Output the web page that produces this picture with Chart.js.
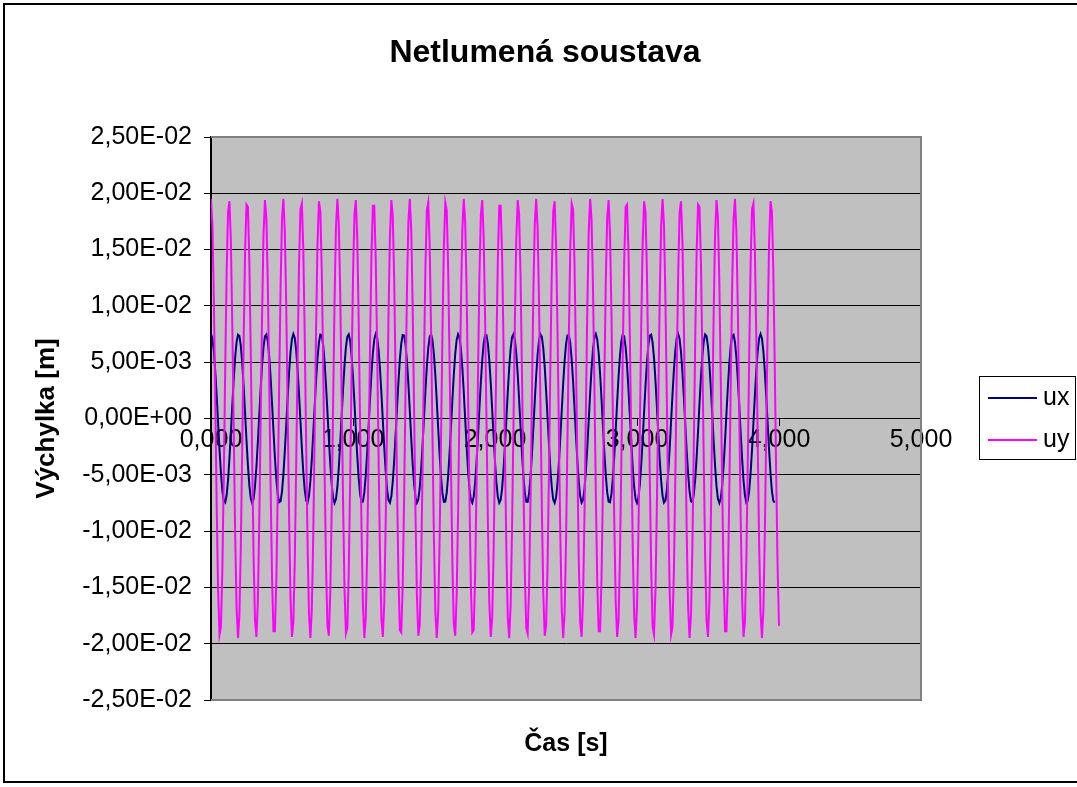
<!DOCTYPE html>
<html>
<head>
<meta charset="utf-8">
<title>Netlumená soustava</title>
<script src="https://cdn.jsdelivr.net/npm/chart.js@4.4.1/dist/chart.umd.min.js"></script>
<style>
  html, body { margin: 0; padding: 0; background: #fff; }
  #wrap { position: relative; width: 1077px; height: 787px; }
</style>
</head>
<body>
<div id="wrap"><canvas id="chart" width="1077" height="787"></canvas></div>
<script>
// sampling of both series (s)
const sampleStep = 0.01;

// axis ticks
const xTicks = [0, 1, 2, 3, 4, 5];
const yTicks = [-0.025, -0.02, -0.015, -0.01, -0.005, 0, 0.005, 0.01, 0.015, 0.02, 0.025];

const seriesNames = ['ux', 'uy'];
const seriesColors = ['#000080', '#ff00ff'];

// ux [mm], t = 0.00 .. 3.97 s
const uxMm = [
  7.50, 7.11, 5.97, 4.21, 2.01, -0.40, -2.76, -4.84, -6.42, -7.32,
  -7.46, -6.82, -5.46, -3.54, -1.24, 1.18, 3.48, 5.42, 6.79, 7.45,
  7.33, 6.45, 4.89, 2.82, 0.46, -1.96, -4.16, -5.94, -7.09, -7.50,
  -7.13, -6.01, -4.26, -2.07, 0.34, 2.71, 4.80, 6.39, 7.31, 7.46,
  6.84, 5.50, 3.59, 1.30, -1.12, -3.43, -5.38, -6.77, -7.44, -7.35,
  -6.48, -4.94, -2.88, -0.52, 1.90, 4.11, 5.90, 7.07, 7.50, 7.15,
  6.05, 4.31, 2.13, -0.27, -2.65, -4.75, -6.35, -7.29, -7.47, -6.87,
  -5.54, -3.64, -1.36, 1.06, 3.38, 5.34, 6.74, 7.44, 7.36, 6.51,
  4.98, 2.93, 0.58, -1.84, -4.06, -5.86, -7.05, -7.50, -7.16, -6.08,
  -4.36, -2.19, 0.21, 2.59, 4.70, 6.32, 7.28, 7.48, 6.89, 5.58,
  3.70, 1.42, -1.00, -3.32, -5.29, -6.71, -7.43, -7.37, -6.54, -5.03,
  -2.99, -0.64, 1.78, 4.01, 5.82, 7.03, 7.50, 7.18, 6.12, 4.41,
  2.25, -0.15, -2.54, -4.66, -6.29, -7.26, -7.48, -6.91, -5.63, -3.75,
  -1.48, 0.94, 3.27, 5.25, 6.68, 7.42, 7.38, 6.57, 5.07, 3.05,
  0.70, -1.72, -3.96, -5.79, -7.01, -7.49, -7.20, -6.15, -4.46, -2.31,
  0.09, 2.48, 4.61, 6.26, 7.25, 7.48, 6.94, 5.66, 3.80, 1.54,
  -0.88, -3.21, -5.21, -6.66, -7.41, -7.39, -6.60, -5.12, -3.10, -0.76,
  1.66, 3.91, 5.75, 6.98, 7.49, 7.22, 6.19, 4.51, 2.36, -0.03,
  -2.42, -4.56, -6.22, -7.23, -7.49, -6.96, -5.71, -3.85, -1.60, 0.82,
  3.16, 5.16, 6.63, 7.40,
  7.40, 6.63, 5.16, 3.16, 0.82, -1.60, -3.85, -5.71, -6.96, -7.49,
  -7.23, -6.22, -4.56, -2.42, -0.03, 2.36, 4.51, 6.19, 7.22, 7.49,
  6.98, 5.75, 3.91, 1.66, -0.76, -3.10, -5.12, -6.60, -7.39, -7.41,
  -6.66, -5.21, -3.21, -0.88, 1.54, 3.80, 5.66, 6.94, 7.48, 7.25,
  6.26, 4.61, 2.48, 0.09, -2.31, -4.46, -6.15, -7.20, -7.49, -7.01,
  -5.79, -3.96, -1.72, 0.70, 3.05, 5.07, 6.57, 7.38, 7.42, 6.68,
  5.25, 3.27, 0.94, -1.48, -3.75, -5.63, -6.91, -7.48, -7.26, -6.29,
  -4.66, -2.54, -0.15, 2.25, 4.41, 6.12, 7.18, 7.50, 7.03, 5.82,
  4.01, 1.78, -0.64, -2.99, -5.03, -6.54, -7.37, -7.43, -6.71, -5.29,
  -3.32, -1.00, 1.42, 3.70, 5.58, 6.89, 7.48, 7.28, 6.32, 4.70,
  2.59, 0.21, -2.19, -4.36, -6.08, -7.16, -7.50, -7.05, -5.86, -4.06,
  -1.84, 0.58, 2.93, 4.98, 6.51, 7.36, 7.44, 6.74, 5.34, 3.38,
  1.06, -1.36, -3.64, -5.54, -6.87, -7.47, -7.29, -6.35, -4.75, -2.65,
  -0.27, 2.13, 4.31, 6.05, 7.15, 7.50, 7.07, 5.90, 4.11, 1.90,
  -0.52, -2.88, -4.94, -6.48, -7.35, -7.44, -6.77, -5.38, -3.43, -1.12,
  1.30, 3.59, 5.50, 6.84, 7.46, 7.31, 6.39, 4.80, 2.71, 0.34,
  -2.07, -4.26, -6.01, -7.13, -7.50, -7.09, -5.94, -4.16, -1.96, 0.46,
  2.82, 4.89, 6.45, 7.33, 7.45, 6.79, 5.42, 3.48, 1.18, -1.24,
  -3.54, -5.46, -6.82, -7.46, -7.32, -6.42, -4.84, -2.76, -0.40, 2.01,
  4.21, 5.97, 7.11, 7.50,
  7.11, 5.97, 4.21, 2.01, -0.40, -2.76, -4.84, -6.42, -7.32, -7.46
];

// uy [mm], t = 0.00 .. 4.00 s
const uyMm = [
  19.5, 17.2, 10.7, 1.7, -7.7, -15.3, -19.2, -18.5, -13.4, -5.1,
  4.4, 12.9, 18.3, 19.3, 15.7, 8.4, -1.0, -10.1, -16.8, -19.5,
  -17.5, -11.4, -2.5, 7.0, 14.8, 19.0, 18.8, 14.0, 5.9, -3.6,
  -12.3, -18.0, -19.4, -16.2, -9.1, 0.2, 9.4, 16.4, 19.4, 17.8,
  12.0, 3.3, -6.2, -14.2, -18.9, -18.9, -14.5, -6.6, 2.9, 11.7,
  17.7, 19.5, 16.6, 9.8, 0.6, -8.7, -16.0, -19.4, -18.1, -12.6,
  -4.0, 5.5, 13.7, 18.6, 19.1, 15.0, 7.3, -2.1, -11.1, -17.3,
  -19.5, -17.0, -10.4, -1.3, 8.0, 15.5, 19.3, 18.4, 13.1, 4.8,
  -4.8, -13.1, -18.4, -19.3, -15.5, -8.0, 1.3, 10.4, 17.0, 19.5,
  17.3, 11.1, 2.1, -7.3, -15.0, -19.1, -18.6, -13.7, -5.5, 4.0,
  12.6, 18.1, 19.4, 16.0, 8.7, -0.6, -9.8, -16.6, -19.5, -17.7,
  -11.7, -2.9, 6.6, 14.5, 18.9, 18.9, 14.2, 6.2, -3.3, -12.0,
  -17.8, -19.4, -16.4, -9.4, -0.2, 9.1, 16.2, 19.4, 18.0, 12.3,
  3.6, -5.9, -14.0, -18.8, -19.0, -14.8, -7.0, 2.5, 11.4, 17.5,
  19.5, 16.8, 10.1, 1.0, -8.4, -15.7, -19.3, -18.3, -12.9, -4.4,
  5.1, 13.4, 18.5, 19.2, 15.3, 7.7, -1.7, -10.7, -17.2, -19.5,
  -17.2, -10.7, -1.7, 7.7, 15.3, 19.2, 18.5, 13.4, 5.1, -4.4,
  -12.9, -18.3, -19.3, -15.7, -8.4, 1.0, 10.1, 16.8, 19.5, 17.5,
  11.4, 2.5, -7.0, -14.8, -19.0, -18.8, -14.0, -5.9, 3.6, 12.3,
  18.0, 19.4, 16.2, 9.1, -0.2, -9.4, -16.4, -19.4, -17.8, -12.0,
  -3.3, 6.2, 14.2, 18.9, 18.9, 14.5, 6.6, -2.9, -11.7, -17.7,
  -19.5, -16.6, -9.8, -0.6, 8.7, 16.0, 19.4, 18.1, 12.6, 4.0,
  -5.5, -13.7, -18.6, -19.1, -15.0, -7.3, 2.1, 11.1, 17.3, 19.5,
  17.0, 10.4, 1.3, -8.0, -15.5, -19.3, -18.4, -13.1, -4.8, 4.8,
  13.1, 18.4, 19.3, 15.5, 8.0, -1.3, -10.4, -17.0, -19.5, -17.3,
  -11.1, -2.1, 7.3, 15.0, 19.1, 18.6, 13.7, 5.5, -4.0, -12.6,
  -18.1, -19.4, -16.0, -8.7, 0.6, 9.8, 16.6, 19.5, 17.7, 11.7,
  2.9, -6.6, -14.5, -18.9, -18.9, -14.2, -6.2, 3.3, 12.0, 17.8,
  19.4, 16.4, 9.4, 0.2, -9.1, -16.2, -19.4, -18.0, -12.3, -3.6,
  5.9, 14.0, 18.8, 19.0, 14.8, 7.0, -2.5, -11.4, -17.5, -19.5,
  -16.8, -10.1, -1.0, 8.4, 15.7, 19.3, 18.3, 12.9, 4.4, -5.1,
  -13.4, -18.5, -19.2, -15.3, -7.7, 1.7, 10.7, 17.2, 19.5,
  17.2, 10.7, 1.7, -7.7, -15.3, -19.2, -18.5, -13.4, -5.1,
  4.4, 12.9, 18.3, 19.3, 15.7, 8.4, -1.0, -10.1, -16.8, -19.5,
  -17.5, -11.4, -2.5, 7.0, 14.8, 19.0, 18.8, 14.0, 5.9, -3.6,
  -12.3, -18.0, -19.4, -16.2, -9.1, 0.2, 9.4, 16.4, 19.4, 17.8,
  12.0, 3.3, -6.2, -14.2, -18.9, -18.9, -14.5, -6.6, 2.9, 11.7,
  17.7, 19.5, 16.6, 9.8, 0.6, -8.7, -16.0, -19.4, -18.1, -12.6,
  -4.0, 5.5, 13.7, 18.6, 19.1, 15.0, 7.3, -2.1, -11.1, -17.3,
  -19.5, -17.0, -10.4, -1.3, 8.0, 15.5, 19.3, 18.4, 13.1, 4.8,
  -4.8, -13.1, -18.4
];

Chart.defaults.font.family = "'Liberation Sans', Arial, sans-serif";
Chart.defaults.color = '#000';

// mm -> m, paired with sample time
function toPoints(arr) {
  return arr.map((v, i) => ({ x: i * sampleStep, y: v / 1000 }));
}

// 2,50E-02 style
function sciLabel(v) {
  if (Math.abs(v) < 1e-12) return '0,00E+00';
  let parts = v.toExponential(2).split('e');
  let e = parseInt(parts[1], 10);
  return parts[0].replace('.', ',') + 'E' + (e < 0 ? '-' : '+') + String(Math.abs(e)).padStart(2, '0');
}

const bgPlugin = {
  id: 'bgPlugin',
  beforeDraw(chart) {
    const { ctx, chartArea: a } = chart;
    ctx.save();
    ctx.fillStyle = '#fff';
    ctx.fillRect(0, 0, chart.width, chart.height);
    ctx.fillStyle = '#c0c0c0';
    ctx.fillRect(a.left, a.top, a.right - a.left, a.bottom - a.top);
    ctx.restore();
  },
  beforeDatasetsDraw(chart) {
    const { ctx, chartArea: a } = chart;
    ctx.save();
    ctx.strokeStyle = '#808080';
    ctx.lineWidth = 2;
    ctx.beginPath();
    ctx.moveTo(a.left, a.top);
    ctx.lineTo(a.right, a.top);
    ctx.lineTo(a.right, a.bottom);
    ctx.lineTo(a.left, a.bottom);
    ctx.stroke();
    ctx.restore();
  },
  afterDraw(chart) {
    const { ctx, chartArea: a } = chart;
    ctx.save();
    // outer frame (right side runs past the window)
    ctx.strokeStyle = '#000';
    ctx.lineWidth = 2;
    ctx.strokeRect(4, 4, chart.width + 20, 778);
    // legend
    const lx = a.right + 58, ly = Math.round((a.top + a.bottom) / 2) - 43;
    ctx.fillStyle = '#fff';
    ctx.fillRect(lx, ly, 97, 84);
    ctx.lineWidth = 1;
    ctx.strokeRect(lx + 0.5, ly + 0.5, 96, 83);
    ctx.font = "25px 'Liberation Sans', Arial, sans-serif";
    ctx.textBaseline = 'middle';
    ctx.fillStyle = '#000';
    chart.data.datasets.forEach((d, i) => {
      const y = ly + 22 + i * 42;
      ctx.strokeStyle = d.borderColor;
      ctx.lineWidth = 2;
      ctx.beginPath();
      ctx.moveTo(lx + 9, y);
      ctx.lineTo(lx + 58, y);
      ctx.stroke();
      ctx.fillText(d.label, lx + 64, y);
    });
    ctx.restore();
  }
};

const tickFont = { size: 25 };

new Chart(document.getElementById('chart'), {
  type: 'scatter',
  data: {
    datasets: [
      { label: seriesNames[0], data: toPoints(uxMm), borderColor: seriesColors[0], backgroundColor: seriesColors[0],
        showLine: true, pointRadius: 0, borderWidth: 2, order: 1 },
      { label: seriesNames[1], data: toPoints(uyMm), borderColor: seriesColors[1], backgroundColor: seriesColors[1],
        showLine: true, pointRadius: 0, borderWidth: 2, order: 0 }
    ]
  },
  options: {
    responsive: false,
    animation: false,
    layout: { padding: { left: 13, top: 0, right: 0, bottom: 0 } },
    plugins: {
      legend: { display: false },
      tooltip: { enabled: false },
      title: {
        display: true,
        text: 'Netlumená soustava',
        font: { size: 32, weight: 'bold' },
        color: '#000',
        padding: { top: 34, bottom: 64.6 }
      }
    },
    scales: {
      x: {
        type: 'linear',
        position: { y: 0 },
        min: 0, max: 5,
        afterBuildTicks: s => { s.ticks = xTicks.map(v => ({ value: v })); },
        ticks: { font: tickFont, color: '#000', padding: 0, maxRotation: 0, autoSkip: false,
          callback: v => v.toFixed(3).replace('.', ',') },
        grid: { drawOnChartArea: false, color: '#000', tickLength: 7 },
        border: { color: '#000', width: 1 }
      },
      xTitle: {
        type: 'linear',
        axis: 'x',
        position: 'bottom',
        min: 0, max: 5,
        grid: { display: false },
        border: { display: false },
        ticks: { display: false },
        title: { display: true, text: 'Čas [s]', font: { size: 25, weight: 'bold' }, color: '#000',
          padding: { top: 0, bottom: 28 } },
        afterFit: s => { s.height = 87; }
      },
      y: {
        min: -0.025, max: 0.025,
        afterBuildTicks: s => { s.ticks = yTicks.map(v => ({ value: v })); },
        ticks: { font: tickFont, color: '#000', padding: 12, callback: v => sciLabel(v) },
        grid: { color: '#000', lineWidth: 1, tickLength: 7 },
        border: { color: '#000', width: 2 },
        title: { display: true, text: 'Výchylka [m]', font: { size: 26, weight: 'bold' }, color: '#000',
          padding: { top: 18, bottom: 0 } },
        afterFit: s => { s.width = 198; }
      },
      yRight: {
        type: 'linear',
        axis: 'y',
        position: 'right',
        display: true,
        grid: { display: false },
        border: { display: false },
        ticks: { display: false },
        afterFit: s => { s.width = 156; }
      }
    }
  },
  plugins: [bgPlugin]
});
</script>
</body>
</html>
